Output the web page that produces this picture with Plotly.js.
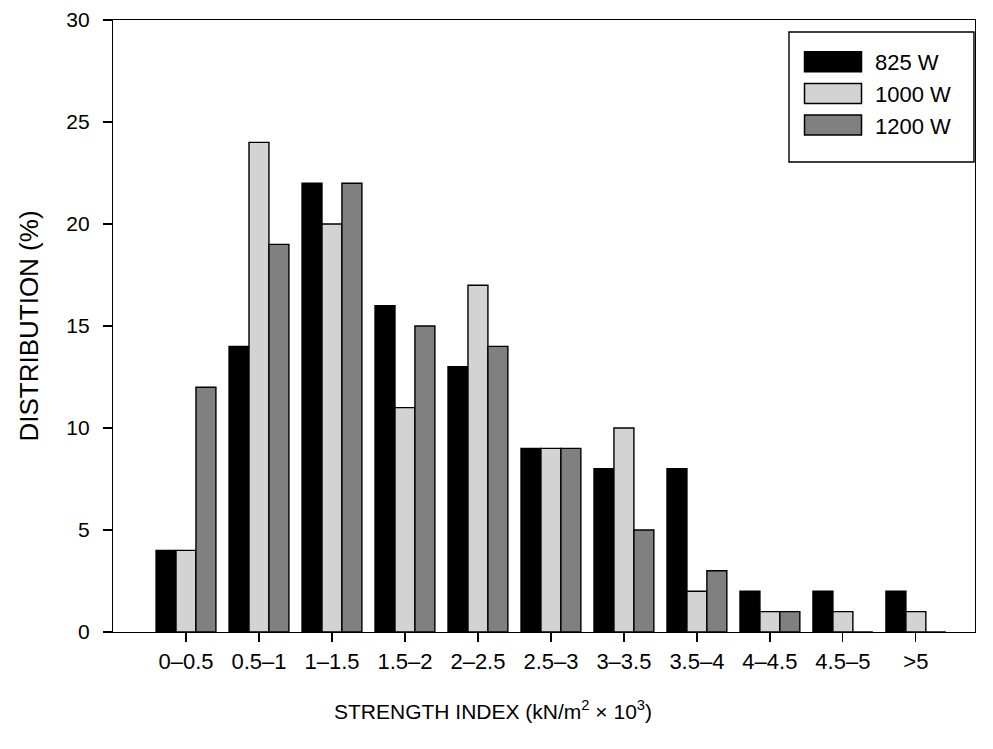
<!DOCTYPE html>
<html>
<head>
<meta charset="utf-8">
<script src="https://cdn.plot.ly/plotly-3.0.1.min.js"></script>
<style>html,body{margin:0;padding:0;background:#fff;}#chart{width:993px;height:749px;}</style>
</head>
<body>
<div id="chart"></div>
<script>
const categories = ["0–0.5","0.5–1","1–1.5","1.5–2","2–2.5","2.5–3","3–3.5","3.5–4","4–4.5","4.5–5",">5"];
const seriesNames = ["825 W","1000 W","1200 W"];
const w825 = [4, 14, 22, 16, 13, 9, 8, 8, 2, 2, 2];
const w1000 = [4, 24, 20, 11, 17, 9, 10, 2, 1, 1, 1];
const w1200 = [12, 19, 22, 15, 14, 9, 5, 3, 1, 0, 0];
const colors = ["#000000", "#d3d3d3", "#808080"];
const yTicks = [0, 5, 10, 15, 20, 25, 30];

const font = "Liberation Sans, Arial, sans-serif";
const data = [w825, w1000, w1200].map((vals, i) => ({
  type: "bar",
  name: seriesNames[i],
  legendgroup: "g" + i,
  x: categories,
  y: vals,
  marker: {color: colors[i], line: {color: "#000", width: 1.4}}
}));

const layout = {
  width: 993, height: 749,
  margin: {l: 113, r: 18, t: 20, b: 117},
  paper_bgcolor: "#fff", plot_bgcolor: "#fff",
  font: {family: font, color: "#000", size: 16},
  barmode: "group",
  bargap: 0.18,
  bargroupgap: 0,
  showlegend: true,
  legend: {
    x: 0.7854, xanchor: "left", y: 0.9657, yanchor: "top",
    borderwidth: 0, bgcolor: "rgba(0,0,0,0)",
    font: {family: font, size: 22, color: "#000"},
    traceorder: "grouped", tracegroupgap: 0, itemwidth: 75
  },
  shapes: [{
    type: "rect", xref: "paper", yref: "paper", layer: "above",
    x0: 0.7842, x1: 0.9988, y0: 0.768, y1: 0.9804,
    line: {color: "#000", width: 1.4}, fillcolor: "#fff"
  }],
  xaxis: {
    type: "category",
    range: [-1.0, 10.81],
    showline: true, linecolor: "#000", linewidth: 1.2, mirror: true,
    ticks: "outside", ticklen: 9, tickcolor: "#000", tickwidth: 1.2,
    showgrid: false, zeroline: false,
    tickfont: {family: font, size: 22, color: "#000"},
    title: {text: "STRENGTH INDEX (kN/m<sup>2</sup> × 10<sup>3</sup>)", font: {family: font, size: 21, color: "#000"}, standoff: 31}
  },
  yaxis: {
    range: [0, 30],
    tickvals: yTicks,
    showline: true, linecolor: "#000", linewidth: 1.2, mirror: true,
    ticks: "outside", ticklen: 9, tickcolor: "#000", tickwidth: 1.2,
    ticklabelstandoff: 9,
    showgrid: false, zeroline: false,
    tickfont: {family: font, size: 21, color: "#000"},
    title: {text: "DISTRIBUTION (%)", font: {family: font, size: 26, color: "#000"}, standoff: 20}
  }
};

Plotly.newPlot("chart", data, layout, {displayModeBar: false, staticPlot: true}).then(() => {
  document.querySelectorAll("#chart .legend .legendpoints path").forEach(p => {
    p.setAttribute("d", "M-28.5,-10H28.5V10H-28.5Z");
    p.setAttribute("transform", "translate(43,0)");
    p.style.strokeWidth = "1.5px";
  });
  const xt = document.querySelector("#chart .g-xtitle");
  if (xt) xt.setAttribute("transform", "translate(-51,0)");
});
</script>
</body>
</html>
